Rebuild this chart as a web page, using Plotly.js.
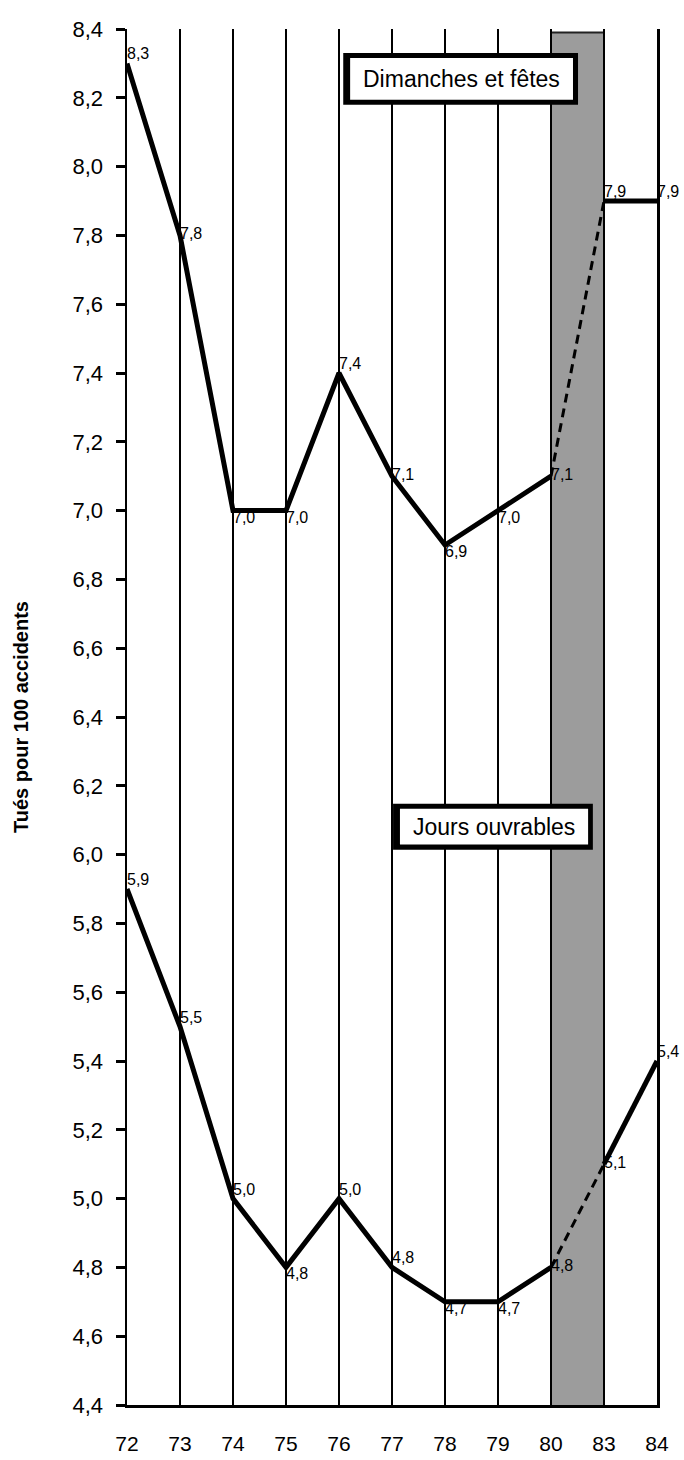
<!DOCTYPE html>
<html>
<head>
<meta charset="utf-8">
<script src="https://cdn.plot.ly/plotly-3.0.1.min.js"></script>
<style>
html,body{margin:0;padding:0;background:#fff;}
#chart{width:684px;height:1460px;}
</style>
</head>
<body>
<div id="chart"></div>
<script>
// ---- Data ----
const years = ['72','73','74','75','76','77','78','79','80','83','84'];
const dimanches = [8.3, 7.8, 7.0, 7.0, 7.4, 7.1, 6.9, 7.0, 7.1, 7.9, 7.9];
const ouvrables = [5.9, 5.5, 5.0, 4.8, 5.0, 4.8, 4.7, 4.7, 4.8, 5.1, 5.4];
const yTickVals = [4.4, 4.6, 4.8, 5.0, 5.2, 5.4, 5.6, 5.8, 6.0, 6.2, 6.4, 6.6, 6.8, 7.0, 7.2, 7.4, 7.6, 7.8, 8.0, 8.2, 8.4];
const seriesNames = ['Dimanches et fêtes', 'Jours ouvrables'];
const yTitle = 'Tués pour 100 accidents';

// ---- Styles ----
const dimLabelPos = ['top right','middle right','bottom right','bottom right','top right','middle right','bottom right','bottom right','middle right','top right','top right'];
const ouvLabelPos = ['top right','top right','top right','bottom right','top right','top right','bottom right','bottom right','middle right','middle right','top right'];

const iGapStart = years.indexOf('80');
const iGapEnd = years.indexOf('83');
const fmt = v => v.toFixed(1).replace('.', ',');

function seriesTraces(vals, labelPos) {
  return [
    {x: years.slice(0, iGapStart + 1), y: vals.slice(0, iGapStart + 1), mode: 'lines',
     line: {color: '#000', width: 5}, hoverinfo: 'skip', showlegend: false},
    {x: years.slice(iGapStart, iGapEnd + 1), y: vals.slice(iGapStart, iGapEnd + 1), mode: 'lines',
     line: {color: '#000', width: 3, dash: '9px,6px'}, hoverinfo: 'skip', showlegend: false},
    {x: years.slice(iGapEnd), y: vals.slice(iGapEnd), mode: 'lines',
     line: {color: '#000', width: 5}, hoverinfo: 'skip', showlegend: false},
    {x: years, y: vals, mode: 'text', text: vals.map(fmt), textposition: labelPos,
     textfont: {family: 'Liberation Sans, Arial, sans-serif', size: 16, color: '#000'},
     cliponaxis: false, hoverinfo: 'skip', showlegend: false}
  ];
}

const data = [].concat(seriesTraces(dimanches, dimLabelPos), seriesTraces(ouvrables, ouvLabelPos));

const layout = {
  width: 684, height: 1460,
  margin: {l: 127, r: 27, t: 29, b: 55},
  paper_bgcolor: '#fff', plot_bgcolor: '#fff',
  separators: ',.',
  font: {family: 'Liberation Sans, Arial, sans-serif', color: '#000'},
  showlegend: false,
  xaxis: {
    type: 'category', categoryorder: 'array', categoryarray: years,
    range: [0, years.length - 1],
    showgrid: true, gridcolor: '#000', gridwidth: 1.5,
    showline: true, linecolor: '#000', linewidth: 3,
    ticks: 'outside', ticklen: 18, tickcolor: 'rgba(0,0,0,0)',
    tickfont: {size: 21, color: '#000'},
    zeroline: false, fixedrange: true
  },
  yaxis: {
    range: [4.4, 8.4],
    tickvals: yTickVals, tickformat: '.1f',
    showgrid: false, zeroline: false,
    showline: true, linecolor: '#000', linewidth: 2.5, mirror: true,
    ticks: 'outside', ticklen: 9, tickwidth: 3, tickcolor: '#000',
    ticklabelstandoff: 8,
    tickfont: {size: 22, color: '#000'},
    title: {text: '<b>' + yTitle + '</b>', font: {size: 20, color: '#000'}, standoff: 39},
    fixedrange: true
  },
  shapes: [
    {type: 'rect', xref: 'x', yref: 'y', x0: iGapStart, x1: iGapEnd, y0: 4.37, y1: 8.39,
     fillcolor: '#9c9c9c', line: {color: '#222', width: 2}, layer: 'below'},
    // label box 1
    {type: 'rect', xref: 'x', yref: 'y', x0: 4.08, x1: 8.51, y0: 8.18, y1: 8.33,
     fillcolor: '#000', line: {width: 0}, layer: 'above'},
    {type: 'rect', xref: 'x', yref: 'y', x0: 4.21, x1: 8.415, y0: 8.194, y1: 8.316,
     fillcolor: '#fff', line: {width: 0}, layer: 'above'},
    // label box 2
    {type: 'rect', xref: 'x', yref: 'y', x0: 5.02, x1: 8.79, y0: 6.014, y1: 6.148,
     fillcolor: '#000', line: {width: 0}, layer: 'above'},
    {type: 'rect', xref: 'x', yref: 'y', x0: 5.15, x1: 8.70, y0: 6.029, y1: 6.133,
     fillcolor: '#fff', line: {width: 0}, layer: 'above'}
  ],
  annotations: [
    {xref: 'x', yref: 'y', x: 6.31, y: 8.255, text: seriesNames[0], showarrow: false,
     font: {size: 23, color: '#000'}},
    {xref: 'x', yref: 'y', x: 6.92, y: 6.081, text: seriesNames[1], showarrow: false,
     font: {size: 23, color: '#000'}}
  ]
};

Plotly.newPlot('chart', data, layout, {staticPlot: true, displayModeBar: false});
</script>
</body>
</html>
